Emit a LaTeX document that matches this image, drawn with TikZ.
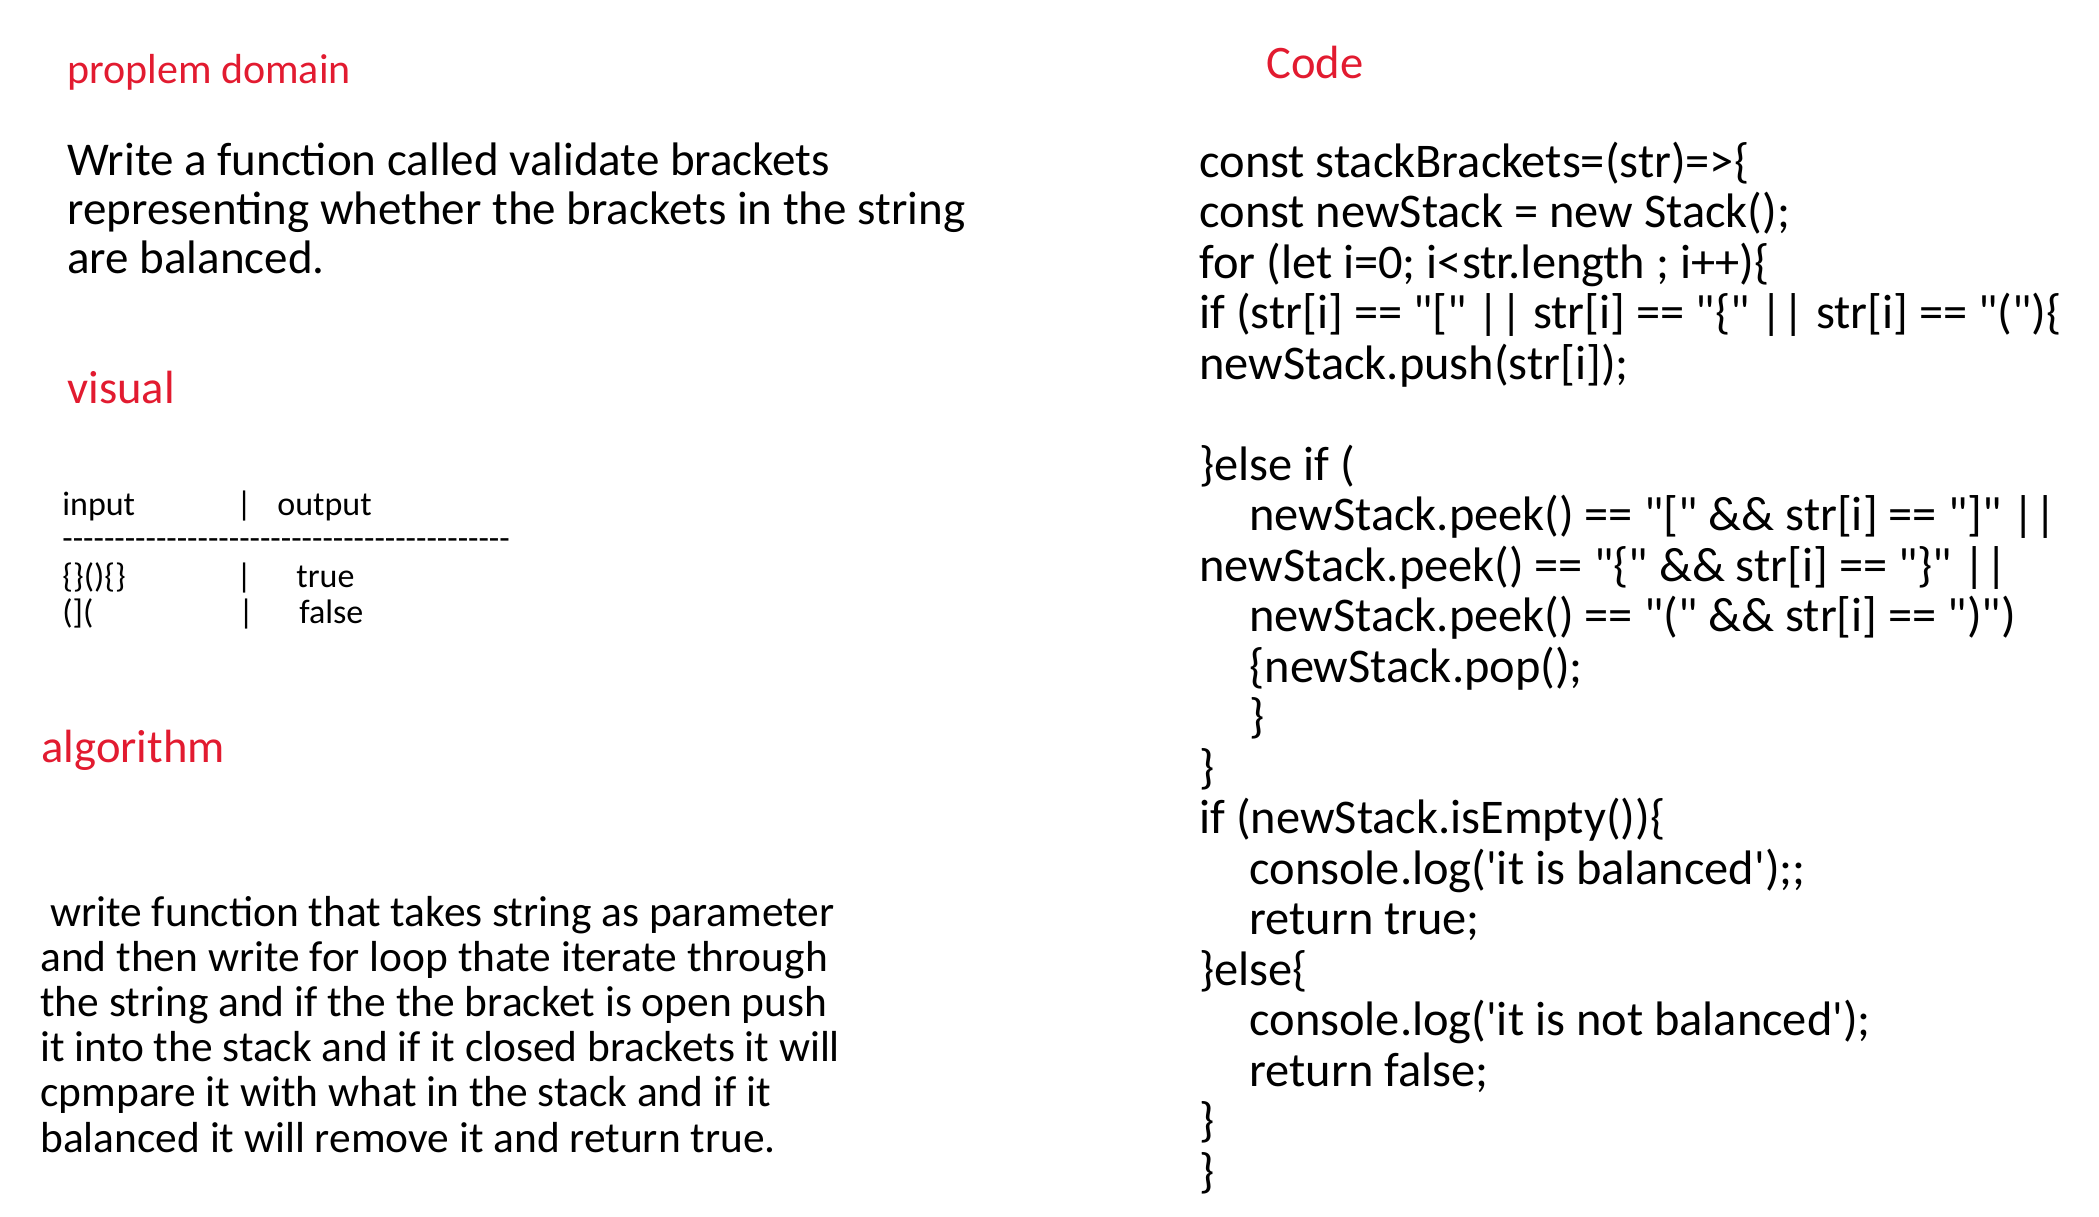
\documentclass[tikz,border=0pt]{standalone}
\usepackage{fontspec}
\setmainfont{Carlito}
\newfontfamily\codefont{Carlito}[Ligatures=TeXOff]
\definecolor{titlered}{HTML}{E21B30}

\begin{document}
\begin{tikzpicture}[x=0.5pt,y=-0.5pt,
  every node/.style={inner sep=0pt, anchor=base west},
  title/.style={text=titlered, font=\fontsize{23.3}{26}\selectfont},
  prose/.style={align=left, font=\codefont\fontsize{23.5}{24.5}\selectfont},
  small/.style={font=\codefont\fontsize{17}{18}\selectfont},
  code/.style={align=left, font=\codefont\fontsize{24.2}{25.25}\selectfont}]
  \useasboundingbox (0,0) rectangle (2099,1216);
  % left column
  \node[title, font=\fontsize{21}{24}\selectfont] (problem) at (67,83) {proplem domain};
  % base of a multi-line node is its last line
  \node[prose] (task) at (67,273)
    {Write a function called validate brackets\\
     representing whether the brackets in the string\\
     are balanced.};
  \node[title] (visual) at (67,403) {visual};
  % table of examples
  \node[small] (inhead)  at (62,515) {input};
  \node[small] (bar1)    at (236,515) {|};
  \node[small] (outhead) at (277,515) {output};
  \node[small] (rule)    at (62,549) {-------------------------------------------};
  \node[small] (in1)     at (62,587) {\{\}()\{\}};
  \node[small] (bar2)    at (236,587) {|};
  \node[small] (out1)    at (296,587) {true};
  \node[small] (in2)     at (62,623) {(](};
  \node[small] (bar3)    at (238,623) {|};
  \node[small] (out2)    at (299,623) {false};
  \node[title] (algo) at (41,762) {algorithm};
  \node[prose, font=\codefont\fontsize{21.7}{22.6}\selectfont] (steps) at (40,1152)
    {\hspace*{5pt}write function that takes string as parameter\\
     and then write for loop thate iterate through\\
     the string and if the the bracket is open push\\
     it into the stack and if it closed brackets it will\\
     cpmpare it with what in the stack and if it\\
     balanced it will remove it and return true.};
  % right column
  \node[title] (codehead) at (1266,78) {Code};
  \node[code] (solution) at (1199,1187)
    {const stackBrackets=(str)=>\{\\
     const newStack = new Stack();\\
     for (let i=0; i<str.length ; i++)\{\\
     if (str[i] == "[" || str[i] == "\{" || str[i] == "(")\{\\
     newStack.push(str[i]);\\[25.25pt]
     \}else if (\\
     \hspace*{25pt}newStack.peek() == "[" \&\& str[i] == "]" ||\\
     newStack.peek() == "\{" \&\& str[i] == "\}" ||\\
     \hspace*{25pt}newStack.peek() == "(" \&\& str[i] == ")")\\
     \hspace*{25pt}\{newStack.pop();\\
     \hspace*{25pt}\}\\
     \}\\
     if (newStack.isEmpty())\{\\
     \hspace*{25pt}console.log('it is balanced');;\\
     \hspace*{25pt}return true;\\
     \}else\{\\
     \hspace*{25pt}console.log('it is not balanced');\\
     \hspace*{25pt}return false;\\
     \}\\
     \}};
\end{tikzpicture}
\end{document}
